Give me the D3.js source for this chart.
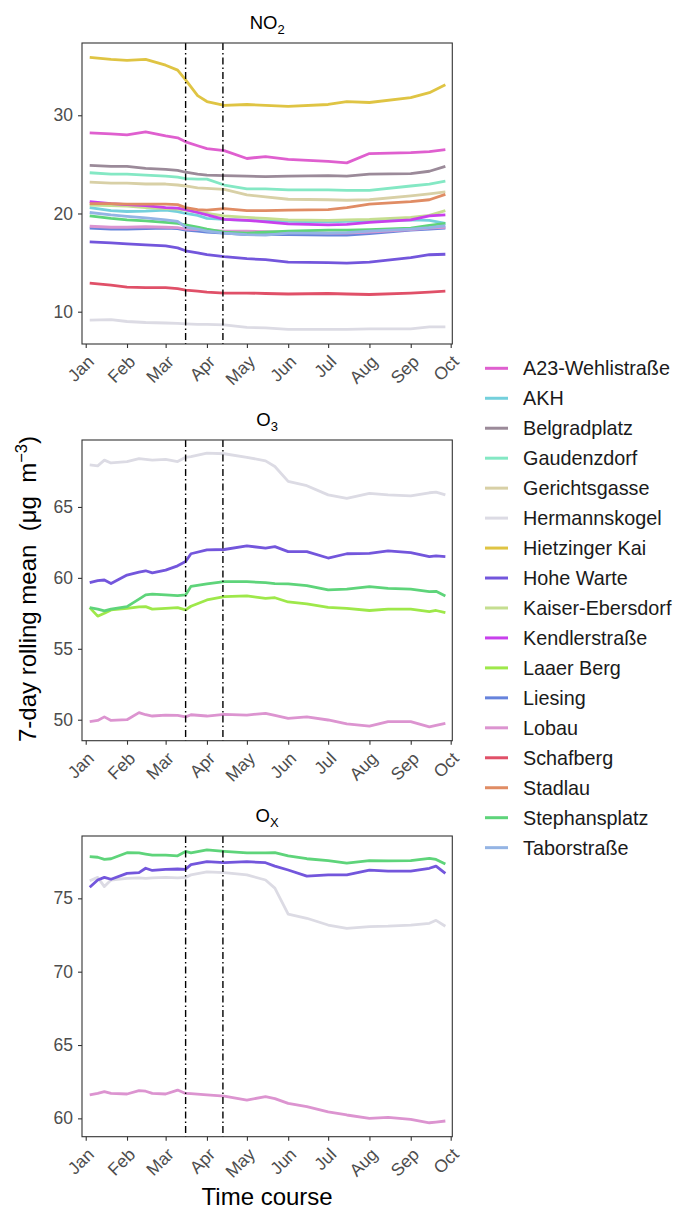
<!DOCTYPE html>
<html>
<head>
<meta charset="utf-8">
<script src="https://cdn.jsdelivr.net/npm/d3@7"></script>
<style>
  body { margin: 0; background: #fff; }
  svg { font-family: "Liberation Sans", Arial, sans-serif; }
  .tick text { fill: #4d4d4d; }
</style>
</head>
<body>
<svg width="673" height="1210"></svg>
<script>
// stations and their colours (legend order)
const stations = ["A23-Wehlistraße", "AKH", "Belgradplatz", "Gaudenzdorf", "Gerichtsgasse",
  "Hermannskogel", "Hietzinger Kai", "Hohe Warte", "Kaiser-Ebersdorf", "Kendlerstraße",
  "Laaer Berg", "Liesing", "Lobau", "Schafberg", "Stadlau", "Stephansplatz", "Taborstraße"];
const stationColors = ["#df5fcf", "#74d0dc", "#9b8a99", "#84e8c4", "#d8d0a6",
  "#dcdbe4", "#dfc443", "#7356dc", "#c5de90", "#c840ec",
  "#9ee84a", "#6683dc", "#dc94d0", "#e05068", "#e08c64", "#5ed47a", "#94b4e4"];

const monthTicks = ["2020-01-01", "2020-02-01", "2020-03-01", "2020-04-01", "2020-05-01",
  "2020-06-01", "2020-07-01", "2020-08-01", "2020-09-01", "2020-10-01"];
const lockdownDates = ["2020-03-16", "2020-04-13"];

// NO2 7-day rolling means
const no2Dates = ["2020-01-04", "2020-01-20", "2020-02-01", "2020-02-15", "2020-03-01", "2020-03-10",
  "2020-03-16", "2020-03-25", "2020-04-01", "2020-04-14", "2020-05-01", "2020-05-15", "2020-06-01",
  "2020-07-01", "2020-07-15", "2020-08-01", "2020-09-01", "2020-09-15", "2020-09-27"];
const no2A23 = [28.2, 28.1, 28.0, 28.3, 27.9, 27.7, 27.3, 26.9, 26.6, 26.4, 25.6, 25.8, 25.5, 25.3, 25.15, 26.1, 26.2, 26.3, 26.5];
const no2AKH = [20.6, 20.3, 20.2, 20.25, 20.35, 20.2, 20.0, 19.8, 19.5, 19.4, 19.3, 19.25, 19.2, 19.15, 19.2, 19.25, 19.35, 19.3, 19.0];
const no2Belgrad = [24.9, 24.8, 24.8, 24.6, 24.5, 24.4, 24.2, 24.0, 23.9, 23.85, 23.8, 23.75, 23.8, 23.85, 23.8, 24.0, 24.05, 24.3, 24.8];
const no2Gaudenz = [24.15, 24.0, 24.0, 23.9, 23.8, 23.7, 23.55, 23.5, 23.5, 22.9, 22.5, 22.5, 22.4, 22.4, 22.35, 22.35, 22.8, 23.0, 23.3];
const no2Gericht = [23.2, 23.1, 23.1, 23.0, 23.0, 22.9, 22.8, 22.6, 22.55, 22.45, 21.9, 21.7, 21.45, 21.4, 21.35, 21.4, 21.8, 22.0, 22.2];
const no2Hermann = [9.15, 9.2, 9.0, 8.9, 8.85, 8.8, 8.75, 8.7, 8.7, 8.65, 8.4, 8.35, 8.2, 8.2, 8.2, 8.25, 8.25, 8.45, 8.45];
const no2Hietzing = [35.9, 35.7, 35.6, 35.7, 35.1, 34.6, 33.6, 32.0, 31.4, 31.0, 31.1, 31.0, 30.9, 31.1, 31.4, 31.3, 31.8, 32.3, 33.1];
const no2HoheWarte = [17.1, 17.0, 16.9, 16.8, 16.7, 16.5, 16.2, 16.0, 15.8, 15.6, 15.4, 15.3, 15.05, 15.0, 14.95, 15.05, 15.5, 15.8, 15.85];
const no2Kaiser = [20.85, 20.8, 20.75, 20.6, 20.5, 20.45, 20.35, 20.15, 20.0, 19.75, 19.6, 19.5, 19.35, 19.3, 19.35, 19.4, 19.6, 19.8, 20.3];
const no2Kendler = [21.2, 21.0, 20.9, 20.8, 20.6, 20.55, 20.4, 20.1, 19.85, 19.4, 19.3, 19.15, 18.95, 18.85, 18.9, 19.1, 19.35, 19.75, 19.85];
const no2Liesing = [18.5, 18.4, 18.4, 18.45, 18.5, 18.45, 18.3, 18.2, 18.1, 18.0, 17.85, 17.85, 17.85, 17.8, 17.8, 17.95, 18.3, 18.4, 18.5];
const no2Lobau = [18.7, 18.6, 18.6, 18.65, 18.6, 18.55, 18.4, 18.35, 18.3, 18.2, 18.2, 18.15, 18.1, 18.0, 18.0, 18.1, 18.35, 18.5, 18.6];
const no2Schafberg = [12.9, 12.7, 12.5, 12.45, 12.45, 12.35, 12.2, 12.1, 12.0, 11.9, 11.9, 11.85, 11.8, 11.85, 11.8, 11.75, 11.9, 12.0, 12.1];
const no2Stadlau = [21.0, 21.0, 20.95, 20.95, 20.95, 20.9, 20.6, 20.4, 20.35, 20.5, 20.3, 20.3, 20.35, 20.4, 20.6, 20.95, 21.2, 21.4, 21.95];
const no2Stephans = [19.75, 19.5, 19.35, 19.25, 19.1, 19.0, 18.85, 18.6, 18.4, 18.1, 18.0, 18.1, 18.2, 18.3, 18.3, 18.35, 18.5, 18.8, 19.0];
const no2Tabor = [20.1, 19.85, 19.7, 19.55, 19.35, 19.2, 18.6, 18.4, 18.2, 18.0, 17.85, 17.8, 18.0, 18.0, 18.05, 18.2, 18.4, 18.55, 18.75];

// O3 and Ox 7-day rolling means (shared dates)
const oxDates = ["2020-01-04", "2020-01-10", "2020-01-15", "2020-01-20", "2020-02-01", "2020-02-10",
  "2020-02-15", "2020-02-20", "2020-03-01", "2020-03-10", "2020-03-16", "2020-03-20", "2020-04-01",
  "2020-04-14", "2020-05-01", "2020-05-15", "2020-05-22", "2020-06-01", "2020-06-15", "2020-07-01",
  "2020-07-15", "2020-08-01", "2020-08-15", "2020-09-01", "2020-09-15", "2020-09-20", "2020-09-27"];
const o3Hermann = [67.96, 67.9, 68.3, 68.1, 68.2, 68.4, 68.35, 68.3, 68.35, 68.2, 68.5, 68.55, 68.8, 68.75, 68.5, 68.25, 67.85, 66.8, 66.5, 65.85, 65.6, 65.95, 65.85, 65.78, 66.0, 66.05, 65.85];
const o3HoheWarte = [59.66, 59.8, 59.85, 59.6, 60.2, 60.4, 60.5, 60.35, 60.55, 60.85, 61.15, 61.7, 61.97, 62.0, 62.25, 62.1, 62.2, 61.85, 61.85, 61.4, 61.7, 61.73, 61.9, 61.78, 61.5, 61.55, 61.5];
const o3Laaer = [57.9, 57.3, 57.5, 57.74, 57.85, 57.95, 57.97, 57.8, 57.85, 57.9, 57.74, 58.0, 58.44, 58.68, 58.73, 58.56, 58.6, 58.3, 58.16, 57.92, 57.85, 57.7, 57.8, 57.8, 57.62, 57.7, 57.55];
const o3Lobau = [49.86, 49.95, 50.2, 49.95, 50.0, 50.5, 50.35, 50.26, 50.33, 50.3, 50.2, 50.35, 50.26, 50.38, 50.33, 50.45, 50.3, 50.1, 50.2, 49.98, 49.7, 49.55, 49.86, 49.86, 49.5, 49.6, 49.74];
const o3Stephans = [57.9, 57.8, 57.67, 57.8, 57.97, 58.5, 58.8, 58.85, 58.8, 58.75, 58.8, 59.4, 59.57, 59.73, 59.73, 59.66, 59.6, 59.57, 59.45, 59.15, 59.2, 59.38, 59.26, 59.2, 59.03, 59.05, 58.72];
const oxHermann = [76.2, 76.43, 75.8, 76.25, 76.36, 76.4, 76.36, 76.4, 76.43, 76.4, 76.43, 76.6, 76.8, 76.75, 76.6, 76.25, 75.7, 73.93, 73.64, 73.18, 72.95, 73.07, 73.1, 73.18, 73.3, 73.5, 73.1];
const oxHoheWarte = [75.75, 76.25, 76.43, 76.3, 76.7, 76.75, 77.05, 76.9, 76.98, 77.0, 76.98, 77.3, 77.5, 77.43, 77.5, 77.43, 77.2, 76.93, 76.52, 76.6, 76.6, 76.93, 76.85, 76.85, 77.05, 77.2, 76.7];
const oxLobau = [61.6, 61.7, 61.82, 61.7, 61.66, 61.89, 61.85, 61.7, 61.66, 61.93, 61.7, 61.68, 61.6, 61.52, 61.25, 61.48, 61.35, 61.02, 60.8, 60.45, 60.23, 60.0, 60.07, 59.93, 59.7, 59.75, 59.82];
const oxStephans = [77.84, 77.8, 77.66, 77.7, 78.11, 78.1, 78.02, 77.95, 77.95, 77.9, 78.2, 78.1, 78.3, 78.2, 78.1, 78.1, 78.12, 77.9, 77.7, 77.57, 77.4, 77.57, 77.55, 77.57, 77.73, 77.65, 77.34];

const no2Ticks = [10, 20, 30];
const o3Ticks = [50, 55, 60, 65];
const oxTicks = [60, 65, 70, 75];

const parse = d3.utcParse("%Y-%m-%d");

const panels = [
  { title: "NO", sub: "2", dates: no2Dates, ticks: no2Ticks, domain: [6.71, 37.36], top: 43, bottom: 344,
    series: [["A23-Wehlistraße", no2A23], ["AKH", no2AKH], ["Belgradplatz", no2Belgrad], ["Gaudenzdorf", no2Gaudenz],
      ["Gerichtsgasse", no2Gericht], ["Hermannskogel", no2Hermann], ["Hietzinger Kai", no2Hietzing],
      ["Hohe Warte", no2HoheWarte], ["Kaiser-Ebersdorf", no2Kaiser], ["Kendlerstraße", no2Kendler],
      ["Liesing", no2Liesing], ["Lobau", no2Lobau], ["Schafberg", no2Schafberg], ["Stadlau", no2Stadlau],
      ["Stephansplatz", no2Stephans], ["Taborstraße", no2Tabor]] },
  { title: "O", sub: "3", dates: oxDates, ticks: o3Ticks, domain: [48.52, 69.72], top: 440, bottom: 740.7,
    series: [["Hermannskogel", o3Hermann], ["Hohe Warte", o3HoheWarte], ["Laaer Berg", o3Laaer],
      ["Lobau", o3Lobau], ["Stephansplatz", o3Stephans]] },
  { title: "O", sub: "X", dates: oxDates, ticks: oxTicks, domain: [58.75, 79.25], top: 836, bottom: 1136.7,
    series: [["Hermannskogel", oxHermann], ["Hohe Warte", oxHoheWarte], ["Lobau", oxLobau],
      ["Stephansplatz", oxStephans]] }
];

const svg = d3.select("svg");
const color = d3.scaleOrdinal().domain(stations).range(stationColors);
const left = 82, right = 452.3;

const x = d3.scaleUtc()
  .domain([new Date(Date.UTC(2019, 11, 29, 5)), new Date(Date.UTC(2020, 9, 2, 5))])
  .range([left, right]);

panels.forEach(p => {
  const y = d3.scaleLinear().domain(p.domain).range([p.bottom, p.top]);
  const g = svg.append("g");

  // title
  const t = g.append("text")
    .attr("x", (left + right) / 2)
    .attr("y", p.top - 14)
    .attr("text-anchor", "middle")
    .attr("font-size", 18.5)
    .attr("fill", "#000");
  t.append("tspan").text(p.title);
  t.append("tspan").attr("font-size", 13).attr("dy", 5).text(p.sub);

  // lines
  const dates = p.dates.map(parse);
  const line = d3.line().x(d => x(d[0])).y(d => y(d[1]));
  p.series.forEach(([name, vals]) => {
    g.append("path")
      .datum(vals.map((v, i) => [dates[i], v]))
      .attr("fill", "none")
      .attr("stroke", color(name))
      .attr("stroke-width", 2.8)
      .attr("stroke-linejoin", "round")
      .attr("d", line);
  });

  // lockdown markers
  lockdownDates.map(parse).forEach(d => {
    g.append("line")
      .attr("x1", x(d)).attr("x2", x(d))
      .attr("y1", p.top).attr("y2", p.bottom)
      .attr("stroke", "#000")
      .attr("stroke-width", 1.4)
      .attr("stroke-dasharray", "7,3,1.5,3");
  });

  // panel border
  g.append("rect")
    .attr("x", left).attr("y", p.top)
    .attr("width", right - left).attr("height", p.bottom - p.top)
    .attr("fill", "none").attr("stroke", "#333").attr("stroke-width", 1.1);

  // y axis
  const ya = g.append("g")
    .attr("transform", `translate(${left},0)`)
    .call(d3.axisLeft(y).tickValues(p.ticks).tickSize(4).tickPadding(5));
  ya.select(".domain").remove();
  ya.selectAll(".tick line").attr("stroke", "#333").attr("stroke-width", 1.1);
  ya.selectAll(".tick text").attr("font-size", 17.5).attr("font-family", null);

  // x axis
  const xa = g.append("g")
    .attr("transform", `translate(0,${p.bottom})`)
    .call(d3.axisBottom(x).tickValues(monthTicks.map(parse)).tickFormat(d3.utcFormat("%b")).tickSize(4));
  xa.select(".domain").remove();
  xa.selectAll(".tick line").attr("stroke", "#333").attr("stroke-width", 1.1);
  xa.selectAll(".tick text")
    .attr("font-size", 17.5)
    .attr("font-family", null)
    .attr("text-anchor", "end")
    .attr("y", 0).attr("dy", "0.71em")
    .attr("transform", "translate(0,10) rotate(-45)");
});

// axis titles
svg.append("text")
  .attr("x", (left + right) / 2)
  .attr("y", 1205)
  .attr("text-anchor", "middle")
  .attr("font-size", 24)
  .text("Time course");

const yt = svg.append("text")
  .attr("transform", "translate(36,589) rotate(-90)")
  .attr("text-anchor", "middle")
  .attr("font-size", 24);
yt.append("tspan").attr("xml:space", "preserve").text("7-day rolling mean  (μg  m");
yt.append("tspan").attr("font-size", 16.5).attr("dy", -9).text("−3");
yt.append("tspan").attr("dy", 9).text(")");

// legend
const legend = svg.append("g");
stations.forEach((s, i) => {
  const ly = 368.3 + i * 29.96;
  legend.append("line")
    .attr("x1", 485).attr("x2", 508)
    .attr("y1", ly).attr("y2", ly)
    .attr("stroke", color(s)).attr("stroke-width", 3);
  legend.append("text")
    .attr("x", 523).attr("y", ly).attr("dy", "0.36em")
    .attr("font-size", 19.8)
    .attr("fill", "#1a1a1a")
    .text(s);
});
</script>
</body>
</html>
